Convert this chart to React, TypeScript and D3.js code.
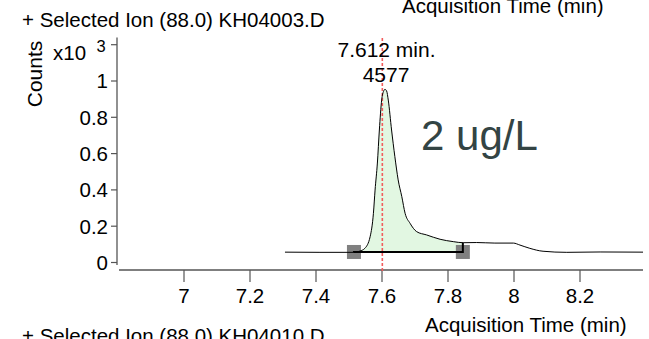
import React from "react";
import * as d3 from "d3";

const times = [7.306, 7.412, 7.518, 7.533, 7.548, 7.564, 7.574, 7.579, 7.586, 7.592, 7.599, 7.605, 7.609, 7.614, 7.619, 7.629, 7.639, 7.649, 7.66, 7.67, 7.685, 7.705, 7.735, 7.776, 7.816, 7.846, 7.887, 7.942, 7.998, 8.018, 8.048, 8.088, 8.16, 8.261, 8.391];
const counts = [0.057, 0.056, 0.056, 0.063, 0.078, 0.142, 0.271, 0.399, 0.548, 0.73, 0.895, 0.945, 0.954, 0.945, 0.895, 0.73, 0.583, 0.455, 0.363, 0.271, 0.216, 0.17, 0.152, 0.128, 0.115, 0.109, 0.11, 0.107, 0.107, 0.096, 0.078, 0.062, 0.056, 0.058, 0.057];
const xTicks = [7, 7.2, 7.4, 7.6, 7.8, 8, 8.2];
const yTicks = [0, 0.2, 0.4, 0.6, 0.8, 1];
const yExpTick = 1.2;
const integStart = 7.515;
const integEnd = 7.845;
const baseLevel = 0.058;
const markerTime = 7.601;
const peakLabel = "7.612 min.";
const peakValue = "4577";
const title = "+ Selected Ion (88.0) KH04003.D";
const nextTitle = "+ Selected Ion (88.0) KH04010.D";
const xTitle = "Acquisition Time (min)";
const yTitle = "Counts";
const concLabel = "2 ug/L";

const FONT = "'Liberation Sans', Arial, sans-serif";

export default function App() {
  const x = d3.scaleLinear().domain([7, 8.2]).range([184, 580]);
  const y = d3.scaleLinear().domain([0, 1]).range([262.5, 81]);
  const xDom = [6.803, 8.391];
  const yDom = [-0.014, 1.24];
  const axisY = 270;
  const axisX = 117;

  const data = times.map((t, i) => ({ t, v: counts[i] }));
  const interp = (t: number) => {
    for (let i = 0; i < data.length - 1; i++) {
      if (t >= data[i].t && t <= data[i + 1].t) {
        const f = (t - data[i].t) / (data[i + 1].t - data[i].t);
        return data[i].v + f * (data[i + 1].v - data[i].v);
      }
    }
    return data[data.length - 1].v;
  };
  const line = d3
    .line<{ t: number; v: number }>()
    .x((d) => x(d.t))
    .y((d) => y(d.v))
    .curve(d3.curveMonotoneX);
  const fillData = [
    { t: integStart, v: interp(integStart) },
    ...data.filter((d) => d.t > integStart && d.t < integEnd),
    { t: integEnd, v: interp(integEnd) },
  ];
  const area = d3
    .area<{ t: number; v: number }>()
    .x((d) => x(d.t))
    .y0(y(baseLevel))
    .y1((d) => y(d.v))
    .curve(d3.curveMonotoneX);

  const sq = 14;
  return (
    <svg
      width={649}
      height={339}
      style={{ position: "absolute", left: 0, top: 0, background: "#fff" }}
      fontFamily={FONT}
    >
      <rect width={649} height={339} fill="#fff" />
      {/* top cut axis title from previous panel */}
      <text x={402} y={12.5} fontSize={20.5} fill="#000">{xTitle}</text>
      <text x={22} y={26.5} fontSize={20.5} fill="#000">{title}</text>

      {/* y axis */}
      <line x1={axisX} x2={axisX} y1={y(yDom[1])} y2={y(yDom[0])} stroke="#555" strokeWidth={1.3} />
      {[...yTicks, yExpTick].map((v) => (
        <line key={v} x1={axisX - 6} x2={axisX} y1={y(v)} y2={y(v)} stroke="#555" strokeWidth={1.2} />
      ))}
      {yTicks.map((v) => (
        <text key={v} x={108} y={y(v) + 7.3} fontSize={20.5} textAnchor="end" fill="#000">
          {String(v)}
        </text>
      ))}
      <text x={53} y={60} fontSize={20.5} fill="#000">x10</text>
      <text x={96.5} y={52} fontSize={16.5} fill="#000">3</text>
      <text
        transform={`translate(42,74) rotate(-90)`}
        fontSize={21}
        textAnchor="middle"
        fill="#000"
      >
        {yTitle}
      </text>

      {/* x axis */}
      <line x1={x(xDom[0])} x2={x(xDom[1])} y1={axisY} y2={axisY} stroke="#555" strokeWidth={1.3} />
      {xTicks.map((t) => (
        <g key={t}>
          <line x1={x(t)} x2={x(t)} y1={axisY} y2={axisY + 12} stroke="#555" strokeWidth={1.2} />
          <text x={x(t)} y={302.5} fontSize={20.5} textAnchor="middle" fill="#000">
            {String(t)}
          </text>
        </g>
      ))}
      <text x={425} y={331.5} fontSize={20.5} fill="#000">{xTitle}</text>
      <text x={22} y={343} fontSize={20.5} fill="#000">{nextTitle}</text>

      {/* integration fill */}
      <path d={area(fillData) || ""} fill="#e2f7e2" stroke="none" />
      {/* markers */}
      <rect x={x(integStart) - sq / 2} y={y(baseLevel) - sq / 2} width={sq} height={sq} fill="#808080" />
      <rect x={x(integEnd) - sq / 2} y={y(baseLevel) - sq / 2} width={sq} height={sq} fill="#808080" />

      {/* red RT marker */}
      <line
        x1={x(markerTime)}
        x2={x(markerTime)}
        y1={38}
        y2={272}
        stroke="#f25c5c"
        strokeWidth={1.6}
        strokeDasharray="3,2"
      />

      {/* chromatogram */}
      <path d={line(data) || ""} fill="none" stroke="#000" strokeWidth={1} />
      {/* baseline */}
      <path
        d={`M${x(integStart)},${y(interp(integStart))}L${x(integStart)},${y(baseLevel)}L${x(integEnd)},${y(baseLevel)}L${x(integEnd)},${y(interp(integEnd))}`}
        fill="none"
        stroke="#000"
        strokeWidth={2}
      />

      <text x={386.5} y={57} fontSize={21} textAnchor="middle" fill="#000">{peakLabel}</text>
      <text x={386} y={82} fontSize={21} textAnchor="middle" fill="#000">{peakValue}</text>

      <text x={421} y={149.5} fontSize={42} fill="#334444">{concLabel}</text>
    </svg>
  );
}
